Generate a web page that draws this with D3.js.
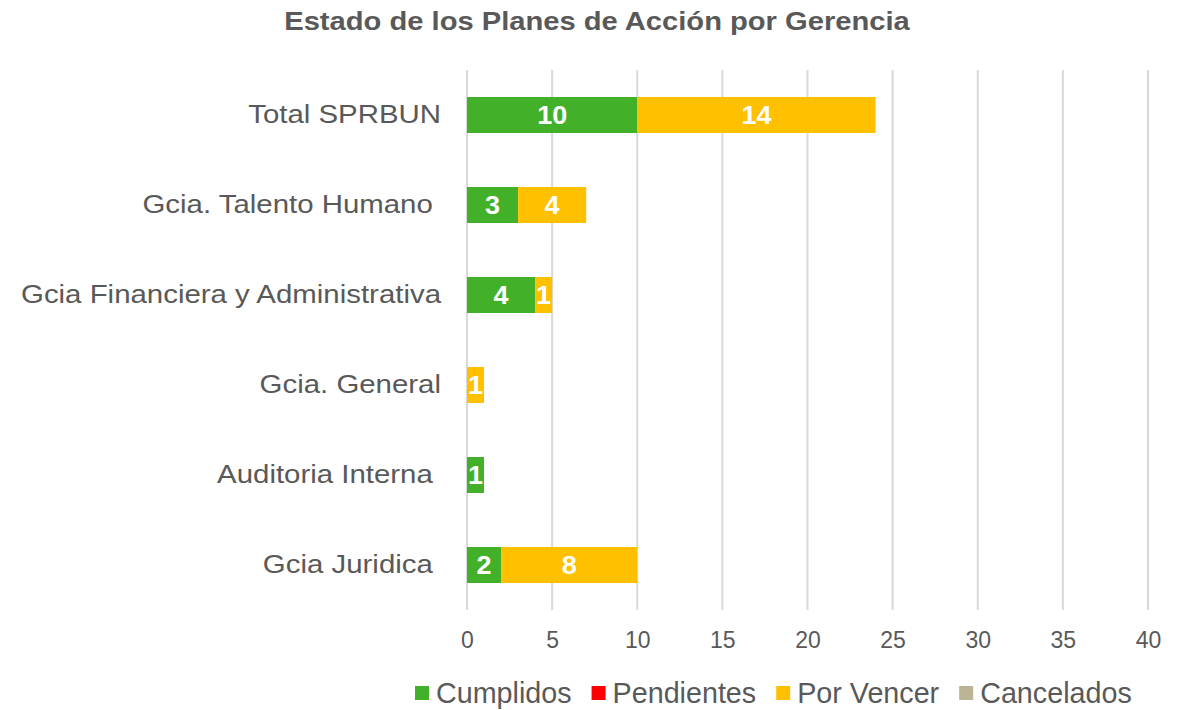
<!DOCTYPE html>
<html>
<head>
<meta charset="utf-8">
<script src="https://cdn.jsdelivr.net/npm/d3@7"></script>
<style>
  body { margin: 0; background: #fff; }
  text { font-family: "Liberation Sans", Arial, sans-serif; }
</style>
</head>
<body>
<svg id="viz"></svg>
<script>
const categories = ['Total SPRBUN', 'Gcia. Talento Humano ', 'Gcia Financiera y Administrativa', 'Gcia. General', 'Auditoria Interna ', 'Gcia Juridica '];
const cumplidos = [10, 3, 4, 0, 1, 2];
const pendientes = [0, 0, 0, 0, 0, 0];
const porVencer = [14, 4, 1, 1, 0, 8];
const cancelados = [0, 0, 0, 0, 0, 0];
const seriesNames = ['Cumplidos', 'Pendientes', 'Por Vencer', 'Cancelados'];
const seriesColors = ['#43B02A', '#FF0000', '#FFC000', '#BCB595'];
const xTicks = [0, 5, 10, 15, 20, 25, 30, 35, 40];

const W = 1187, H = 710;
const margin = { top: 70, right: 39, bottom: 100, left: 467 };
const width = W - margin.left - margin.right;
const height = H - margin.top - margin.bottom;
const stretch = 1.11;

const svg = d3.select('#viz').attr('width', W).attr('height', H);

const rows = categories.map((c, i) => ({
  cat: c,
  Cumplidos: cumplidos[i],
  Pendientes: pendientes[i],
  'Por Vencer': porVencer[i],
  Cancelados: cancelados[i]
}));
const stacked = d3.stack().keys(seriesNames)(rows);

// SCALES
const x = d3.scaleLinear().domain([0, 40]).range([0, width]);
const y = d3.scaleBand().domain(categories).range([0, height]).paddingInner(0.6).paddingOuter(0.3);

const g = svg.append('g').attr('transform', 'translate(' + margin.left + ',' + margin.top + ')');

// grid
g.append('g')
  .selectAll('line')
  .data(xTicks)
  .enter()
  .append('line')
  .attr('x1', (d) => x(d))
  .attr('x2', (d) => x(d))
  .attr('y1', 0)
  .attr('y2', height)
  .style('stroke', '#d9d9d9')
  .style('stroke-width', 2);

// x axis labels
const xAxis = g.append('g')
  .attr('transform', 'translate(0,' + height + ')')
  .call(d3.axisBottom(x).tickValues(xTicks).tickSize(0).tickPadding(22));
xAxis.select('.domain').remove();
xAxis.selectAll('text')
  .style('font-size', '23px')
  .style('fill', '#595959')
  .style('font-family', '"Liberation Sans", Arial, sans-serif');

// y axis labels
const yAxis = g.append('g')
  .call(d3.axisLeft(y).tickSize(0).tickPadding(0));
yAxis.select('.domain').remove();
yAxis.selectAll('text')
  .attr('x', 0)
  .attr('dy', '0.3em')
  .attr('transform', 'translate(-26,0) scale(' + stretch + ',1)')
  .style('font-size', '26.5px')
  .style('fill', '#595959')
  .style('white-space', 'pre')
  .style('font-family', '"Liberation Sans", Arial, sans-serif');

// DATA
stacked.forEach((s, si) => {
  const segs = s.filter((d) => d[1] - d[0] > 0);
  const layer = g.append('g').style('fill', seriesColors[si]);
  layer.selectAll('rect')
    .data(segs)
    .enter()
    .append('rect')
    .attr('x', (d) => x(d[0]))
    .attr('y', (d) => y(d.data.cat))
    .attr('width', (d) => x(d[1]) - x(d[0]))
    .attr('height', y.bandwidth());
  layer.selectAll('text')
    .data(segs)
    .enter()
    .append('text')
    .attr('transform', (d) => 'translate(' + x((d[0] + d[1]) / 2) + ',' + (y(d.data.cat) + y.bandwidth() / 2) + ') scale(1.08,1)')
    .attr('dy', '0.36em')
    .attr('text-anchor', 'middle')
    .style('fill', '#fff')
    .style('font-weight', 'bold')
    .style('font-size', '25px')
    .text((d) => d[1] - d[0]);
});

// TITLE
svg.append('text')
  .attr('transform', 'translate(597,30) scale(1.1,1)')
  .attr('text-anchor', 'middle')
  .style('font-size', '26.5px')
  .style('font-weight', 'bold')
  .style('fill', '#595959')
  .text('Estado de los Planes de Acción por Gerencia');

// LEGEND
const legend = svg.append('g').attr('transform', 'translate(415,693)');
let lx = 0;
seriesNames.forEach((name, i) => {
  const item = legend.append('g').attr('transform', 'translate(' + lx + ',0)');
  item.append('rect')
    .attr('x', 0)
    .attr('y', -7)
    .attr('width', 14)
    .attr('height', 14)
    .style('fill', seriesColors[i]);
  const t = item.append('text')
    .attr('transform', 'translate(21,0) scale(0.99,1)')
    .attr('dy', '0.34em')
    .style('font-size', '29px')
    .style('fill', '#595959')
    .text(name);
  lx += 21 + t.node().getComputedTextLength() * 0.99 + 20;
});
</script>
</body>
</html>
